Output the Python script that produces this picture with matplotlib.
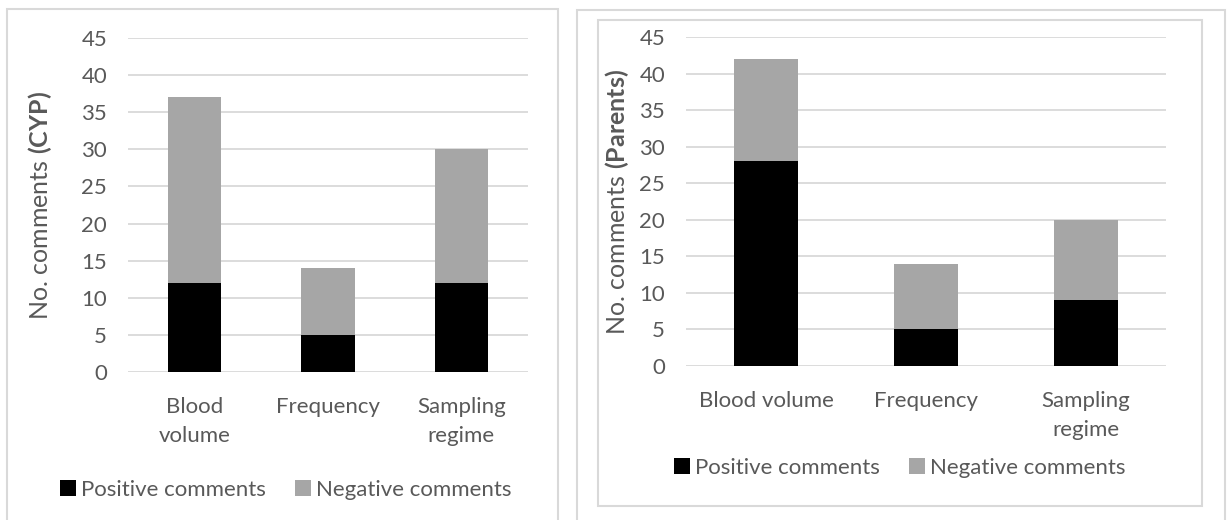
import matplotlib
matplotlib.use('Agg')
import matplotlib.pyplot as plt
from matplotlib.patches import Rectangle
import numpy as np

plt.rcParams['font.family'] = ['Lato', 'DejaVu Sans']
plt.rcParams['mathtext.fontset'] = 'custom'
plt.rcParams['mathtext.rm'] = 'Lato'
plt.rcParams['mathtext.bf'] = 'Lato:bold'

# data
categories_cyp = ['Blood\nvolume', 'Frequency', 'Sampling\nregime']
positive_cyp = [12, 5, 12]
negative_cyp = [25, 9, 18]

categories_par = ['Blood volume', 'Frequency', 'Sampling\nregime']
positive_par = [28, 5, 9]
negative_par = [14, 9, 11]

yticks = list(range(0, 50, 5))

text_col = '#595959'
grid_col = '#d9d9d9'
pos_col = '#000000'
neg_col = '#a6a6a6'
W, H = 1227, 520

fig = plt.figure(figsize=(W / 100, H / 100), dpi=100)


def frac(x0, y0, x1, y1):
    # pixel box (top-left origin) -> figure fraction
    return [x0 / W, 1 - y1 / H, (x1 - x0) / W, (y1 - y0) / H]


# panel borders
for (x0, y0, x1, y1) in [(7, 9, 558, 530), (577, 10, 1225, 530), (598, 20, 1202, 506)]:
    b = frac(x0, y0, x1, y1)
    fig.patches.append(Rectangle((b[0], b[1]), b[2], b[3], transform=fig.transFigure,
                                 fill=False, edgecolor='#d9d9d9', linewidth=1.5))


def draw(ax, cats, pos, neg, ylabel, label_x, legend_xy):
    x = np.arange(len(cats))
    ax.set_axisbelow(True)
    ax.bar(x, pos, width=0.4, color=pos_col, label='Positive comments')
    ax.bar(x, neg, width=0.4, bottom=pos, color=neg_col, label='Negative comments')
    ax.set_xlim(-0.5, len(cats) - 0.5)
    ax.set_ylim(0, 45)
    ax.set_yticks(yticks)
    ax.yaxis.grid(True, color=grid_col, linewidth=1.3)
    ax.set_xticks(x)
    ax.set_xticklabels(cats, fontsize=16, color=text_col, linespacing=1.55)
    ax.tick_params(axis='y', labelsize=16, colors=text_col, length=0, pad=15)
    ax.tick_params(axis='x', length=0, pad=18)
    for s in ax.spines.values():
        s.set_visible(False)
    ax.set_ylabel(ylabel, fontsize=18, color=text_col)
    ax.yaxis.set_label_coords(label_x, 0.5)
    lx, ly = legend_xy
    ax.legend(loc='center', bbox_to_anchor=(lx / W, 1 - ly / H),
              bbox_transform=fig.transFigure, ncol=2, frameon=False,
              fontsize=16, labelcolor=text_col, handlelength=0.7, handleheight=0.7,
              handletextpad=0.25, columnspacing=1.3, borderaxespad=0)


ax1 = fig.add_axes(frac(128, 38, 528, 372))
draw(ax1, categories_cyp, positive_cyp, negative_cyp, r'No. comments $\mathbf{(CYP)}$',
     -0.185, (286, 490))

ax2 = fig.add_axes(frac(686, 37, 1166, 366))
draw(ax2, categories_par, positive_par, negative_par, r'No. comments $\mathbf{(Parents)}$',
     -0.115, (900, 468))

fig.savefig('out.png', dpi=100)
